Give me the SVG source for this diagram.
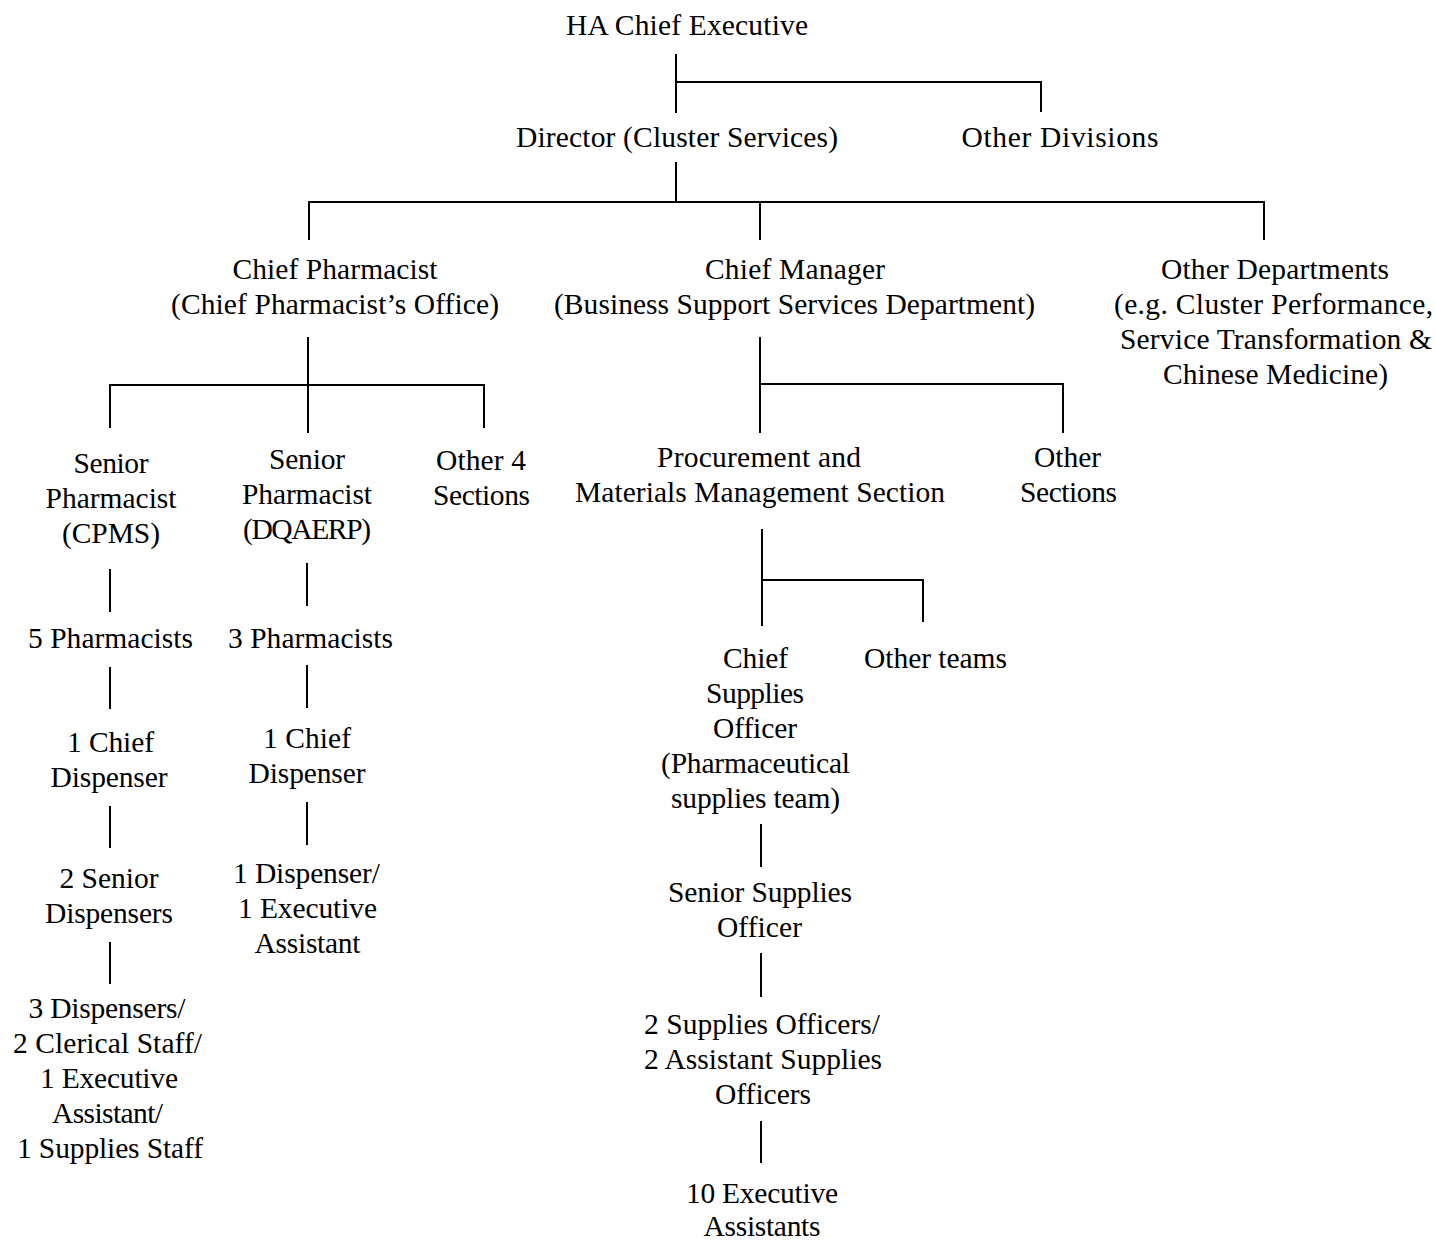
<svg xmlns="http://www.w3.org/2000/svg" width="1435" height="1242" viewBox="0 0 1435 1242">
<style>
text{font-family:"Liberation Serif","Times New Roman",serif;font-size:29.5px;fill:#000;text-anchor:middle}
.c line{stroke:#000;stroke-width:2;fill:none}
</style>
<rect width="1435" height="1242" fill="#fff"/>
<g class="c" id="connectors">
<line x1="676" y1="54" x2="676" y2="113"/>
<line x1="676" y1="82" x2="1042" y2="82"/>
<line x1="1041" y1="82" x2="1041" y2="112"/>
<line x1="676" y1="162" x2="676" y2="202"/>
<line x1="308" y1="202" x2="1265" y2="202"/>
<line x1="309" y1="201" x2="309" y2="240"/>
<line x1="760" y1="202" x2="760" y2="240"/>
<line x1="1264" y1="201" x2="1264" y2="240"/>
<line x1="308" y1="337" x2="308" y2="433"/>
<line x1="109" y1="385" x2="485" y2="385"/>
<line x1="110" y1="384" x2="110" y2="428"/>
<line x1="484" y1="384" x2="484" y2="428"/>
<line x1="760" y1="337" x2="760" y2="433"/>
<line x1="760" y1="384" x2="1064" y2="384"/>
<line x1="1063" y1="383" x2="1063" y2="433"/>
<line x1="762" y1="529" x2="762" y2="626"/>
<line x1="762" y1="580" x2="924" y2="580"/>
<line x1="923" y1="579" x2="923" y2="622"/>
<line x1="761" y1="824" x2="761" y2="867"/>
<line x1="761" y1="953" x2="761" y2="997"/>
<line x1="761" y1="1121" x2="761" y2="1163"/>
<line x1="110" y1="569" x2="110" y2="612"/>
<line x1="110" y1="667" x2="110" y2="709"/>
<line x1="110" y1="806" x2="110" y2="848"/>
<line x1="110" y1="942" x2="110" y2="984"/>
<line x1="307" y1="563" x2="307" y2="606"/>
<line x1="307" y1="665" x2="307" y2="708"/>
<line x1="307" y1="802" x2="307" y2="845"/>
</g>
<g id="n-ceo"><text x="687" y="35" textLength="242" lengthAdjust="spacing">HA Chief Executive</text></g>
<g id="n-director"><text x="677" y="147" textLength="322" lengthAdjust="spacing">Director (Cluster Services)</text></g>
<g id="n-otherdiv"><text x="1060" y="147" textLength="197" lengthAdjust="spacing">Other Divisions</text></g>
<g id="n-chiefpharm">
<text x="335" y="279" textLength="205" lengthAdjust="spacing">Chief Pharmacist</text>
<text x="335" y="314" textLength="328" lengthAdjust="spacing">(Chief Pharmacist’s Office)</text>
</g>
<g id="n-chiefmgr">
<text x="795" y="279" textLength="180" lengthAdjust="spacing">Chief Manager</text>
<text x="794.5" y="314" textLength="481" lengthAdjust="spacing">(Business Support Services Department)</text>
</g>
<g id="n-otherdept">
<text x="1275" y="279" textLength="228" lengthAdjust="spacing">Other Departments</text>
<text x="1273.5" y="314" textLength="319" lengthAdjust="spacing">(e.g. Cluster Performance,</text>
<text x="1276" y="349" textLength="312" lengthAdjust="spacing">Service Transformation &amp;</text>
<text x="1275.5" y="384" textLength="225" lengthAdjust="spacing">Chinese Medicine)</text>
</g>
<g id="n-sp-cpms">
<text x="111" y="473" textLength="75" lengthAdjust="spacing">Senior</text>
<text x="111" y="508" textLength="131" lengthAdjust="spacing">Pharmacist</text>
<text x="111" y="543" textLength="98" lengthAdjust="spacing">(CPMS)</text>
</g>
<g id="n-sp-dq">
<text x="307" y="469" textLength="76" lengthAdjust="spacing">Senior</text>
<text x="307" y="504" textLength="130" lengthAdjust="spacing">Pharmacist</text>
<text x="307" y="539" textLength="128" lengthAdjust="spacing">(DQAERP)</text>
</g>
<g id="n-other4">
<text x="481" y="470" textLength="90" lengthAdjust="spacing">Other 4</text>
<text x="481.5" y="505" textLength="97" lengthAdjust="spacing">Sections</text>
</g>
<g id="n-pmms">
<text x="759" y="467" textLength="204" lengthAdjust="spacing">Procurement and</text>
<text x="760" y="502" textLength="370" lengthAdjust="spacing">Materials Management Section</text>
</g>
<g id="n-othersec">
<text x="1067.5" y="467" textLength="67" lengthAdjust="spacing">Other</text>
<text x="1068.5" y="502" textLength="97" lengthAdjust="spacing">Sections</text>
</g>
<g id="n-5pharm"><text x="110.5" y="648" textLength="165" lengthAdjust="spacing">5 Pharmacists</text></g>
<g id="n-3pharm"><text x="310.5" y="648" textLength="165" lengthAdjust="spacing">3 Pharmacists</text></g>
<g id="n-cd-l">
<text x="110.5" y="752" textLength="87" lengthAdjust="spacing">1 Chief</text>
<text x="109" y="787" textLength="117" lengthAdjust="spacing">Dispenser</text>
</g>
<g id="n-cd-r">
<text x="307" y="748" textLength="88" lengthAdjust="spacing">1 Chief</text>
<text x="307" y="783" textLength="117" lengthAdjust="spacing">Dispenser</text>
</g>
<g id="n-2sd">
<text x="109" y="888" textLength="99" lengthAdjust="spacing">2 Senior</text>
<text x="109" y="923" textLength="128" lengthAdjust="spacing">Dispensers</text>
</g>
<g id="n-1d">
<text x="306.5" y="883" textLength="147" lengthAdjust="spacing">1 Dispenser/</text>
<text x="307.5" y="918" textLength="139" lengthAdjust="spacing">1 Executive</text>
<text x="307.5" y="953" textLength="106" lengthAdjust="spacing">Assistant</text>
</g>
<g id="n-3d">
<text x="107" y="1018" textLength="157" lengthAdjust="spacing">3 Dispensers/</text>
<text x="107.5" y="1053" textLength="189" lengthAdjust="spacing">2 Clerical Staff/</text>
<text x="109" y="1088" textLength="138" lengthAdjust="spacing">1 Executive</text>
<text x="107.5" y="1123" textLength="111" lengthAdjust="spacing">Assistant/</text>
<text x="110" y="1158" textLength="186" lengthAdjust="spacing">1 Supplies Staff</text>
</g>
<g id="n-cso">
<text x="755.5" y="668" textLength="65" lengthAdjust="spacing">Chief</text>
<text x="755" y="703" textLength="98" lengthAdjust="spacing">Supplies</text>
<text x="755" y="738" textLength="84" lengthAdjust="spacing">Officer</text>
<text x="755.5" y="773" textLength="189" lengthAdjust="spacing">(Pharmaceutical</text>
<text x="755.5" y="808" textLength="169" lengthAdjust="spacing">supplies team)</text>
</g>
<g id="n-otherteams"><text x="935.5" y="668" textLength="143" lengthAdjust="spacing">Other teams</text></g>
<g id="n-sso">
<text x="760" y="902" textLength="184" lengthAdjust="spacing">Senior Supplies</text>
<text x="759.5" y="937" textLength="85" lengthAdjust="spacing">Officer</text>
</g>
<g id="n-2so">
<text x="762" y="1034" textLength="236" lengthAdjust="spacing">2 Supplies Officers/</text>
<text x="763" y="1069" textLength="238" lengthAdjust="spacing">2 Assistant Supplies</text>
<text x="763" y="1104" textLength="96" lengthAdjust="spacing">Officers</text>
</g>
<g id="n-10ea">
<text x="762" y="1203" textLength="152" lengthAdjust="spacing">10 Executive</text>
<text x="762" y="1236" textLength="117" lengthAdjust="spacing">Assistants</text>
</g>
</svg>
